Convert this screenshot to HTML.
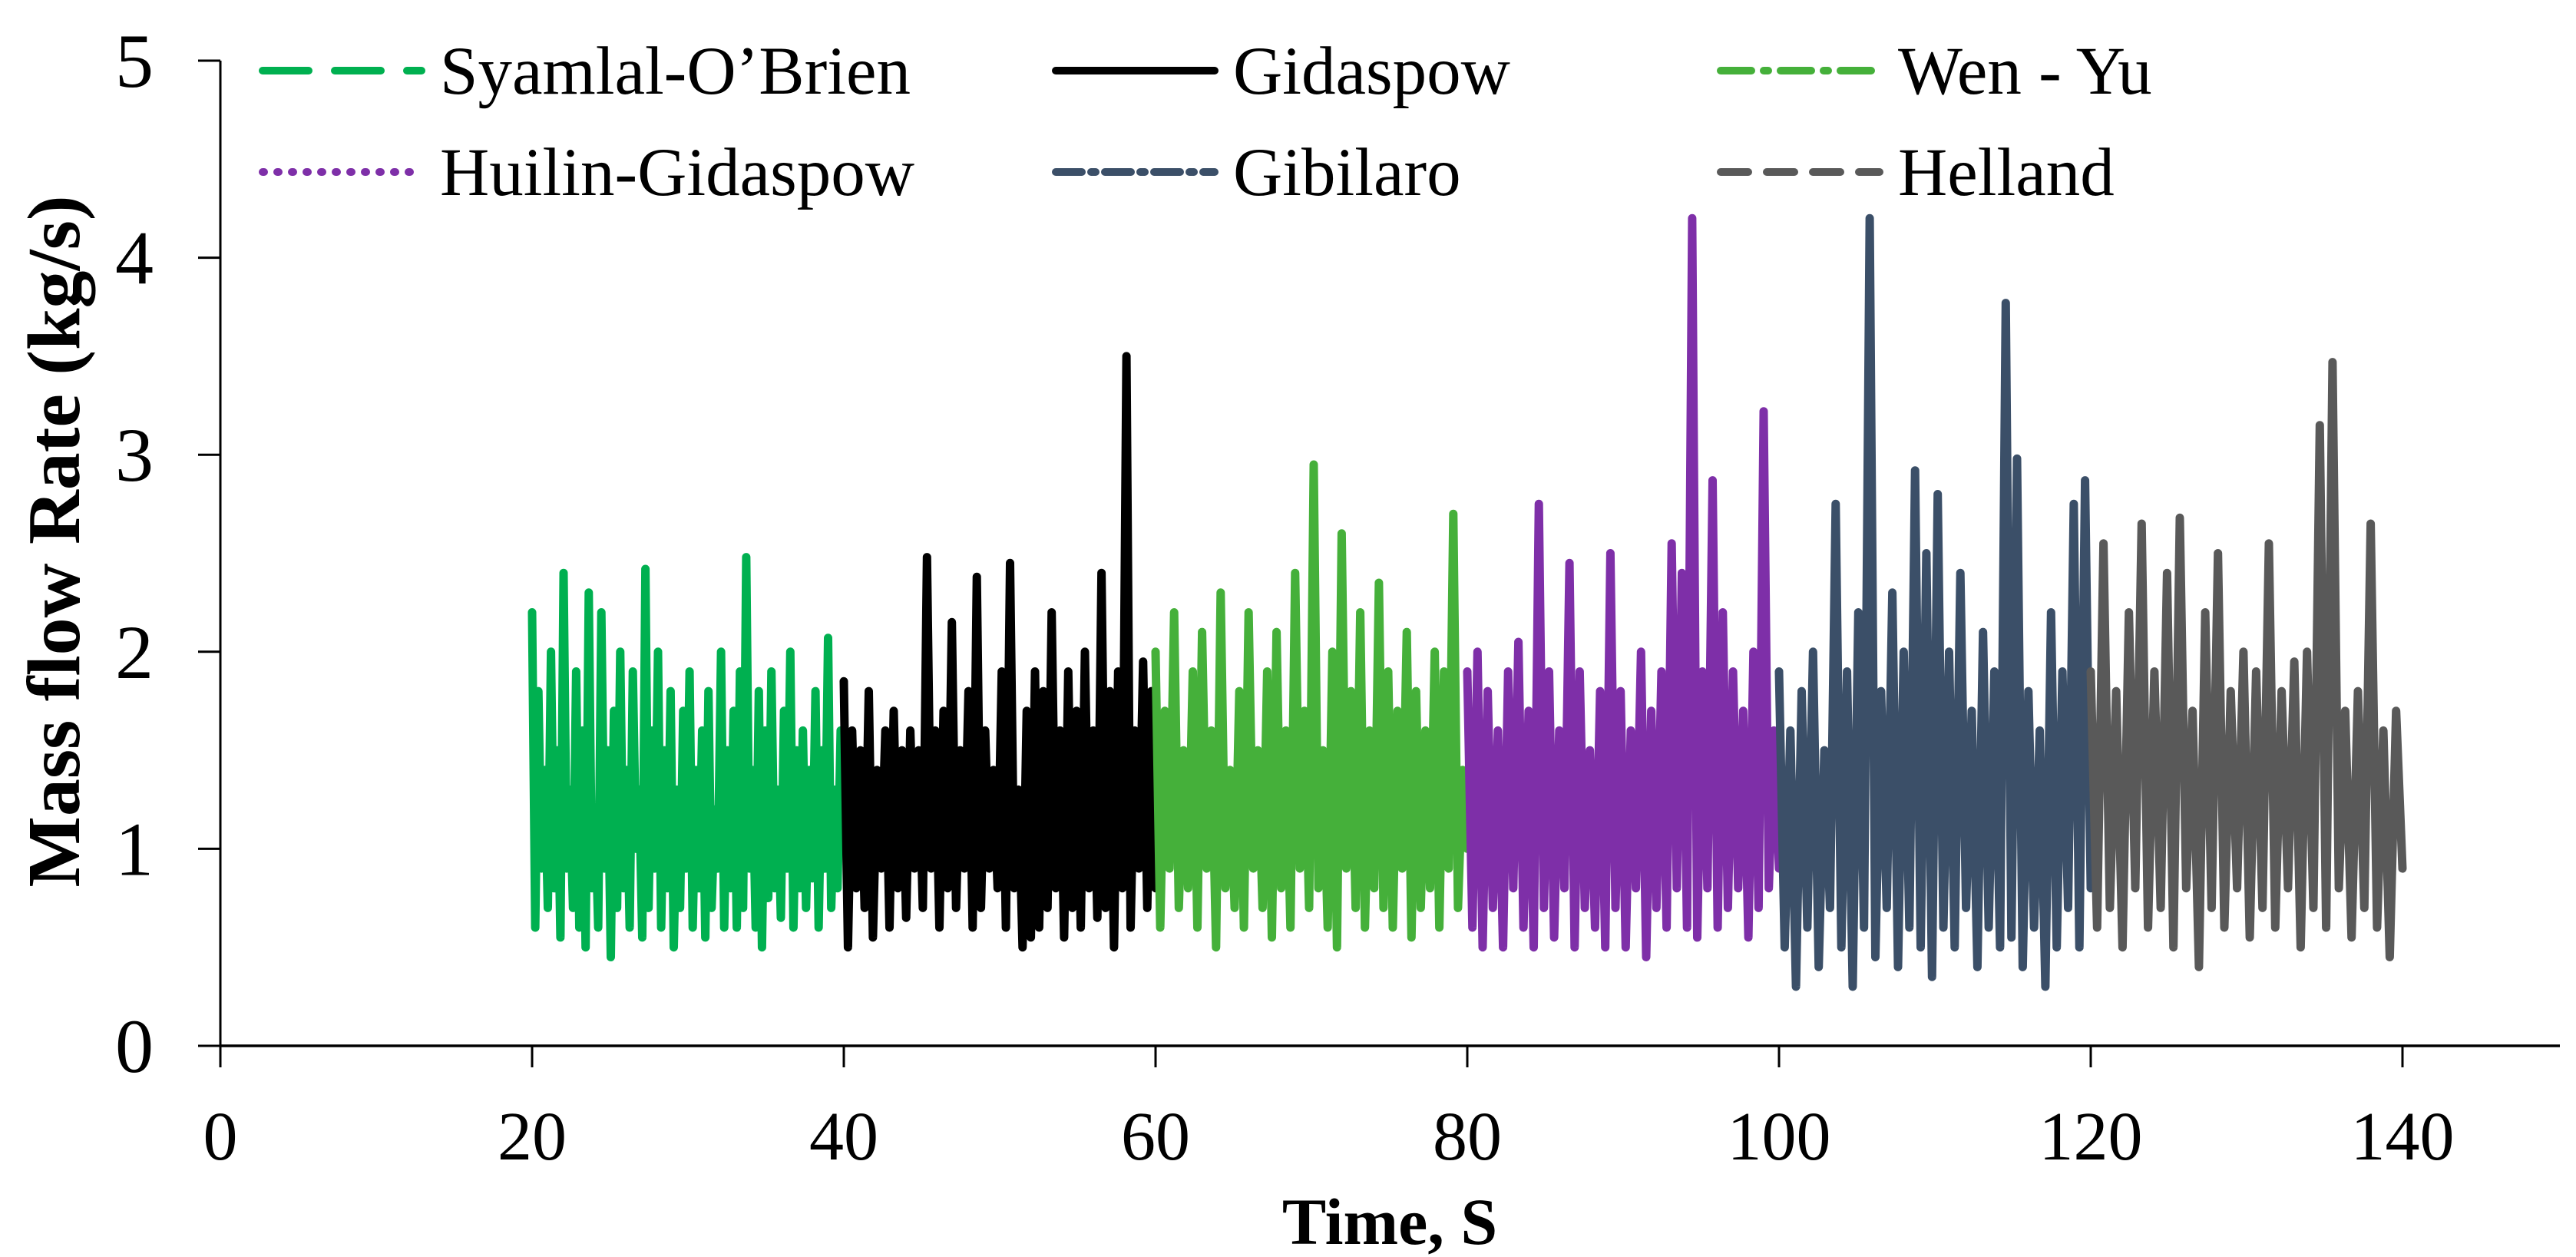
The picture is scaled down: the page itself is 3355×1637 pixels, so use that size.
<!DOCTYPE html>
<html><head><meta charset="utf-8"><style>
html,body{margin:0;padding:0;background:#fff;}
svg{display:block;}
text{font-family:"Liberation Serif",serif;fill:#000;}
</style></head><body>
<svg id="chart" width="3355" height="1637" viewBox="0 0 3355 1637" xmlns="http://www.w3.org/2000/svg">
<g id="plot"></g>
<g id="axes"></g>
<g id="legend"></g>
</svg>
<script>
const xTicks = [0,20,40,60,80,100,120,140];
const yTicks = [0,1,2,3,4,5];
const seriesNames = ["Syamlal-O’Brien","Gidaspow","Wen - Yu","Huilin-Gidaspow","Gibilaro","Helland"];
const seriesStart = [20,40,60,80,100,120];
const syamlalValues = [2.2,0.6,1.8,0.9,1.4,0.7,2.0,0.8,1.5,0.55,2.4,0.9,1.3,0.7,1.9,0.6,1.6,0.5,2.3,0.8,1.2,0.6,2.2,0.9,1.5,0.45,1.7,0.7,2.0,0.8,1.4,0.6,1.9,1.0,1.3,0.55,2.42,0.7,1.6,0.9,2.0,0.6,1.5,0.8,1.8,0.5,1.3,0.7,1.7,0.9,1.9,0.6,1.4,0.8,1.6,0.55,1.8,0.7,1.2,0.9,2.0,0.6,1.5,0.8,1.7,0.6,1.9,0.7,2.48,0.9,1.4,0.6,1.8,0.5,1.6,0.75,1.9,0.8,1.3,0.65,1.7,0.9,2.0,0.6,1.5,0.8,1.6,0.7,1.4,0.85,1.8,0.6,1.5,0.9,2.07,0.7,1.3,0.8,1.6,1.0];
const gidaspowValues = [1.85,0.5,1.6,0.8,1.5,0.7,1.8,0.55,1.4,0.9,1.6,0.6,1.7,0.8,1.5,0.65,1.6,0.9,1.5,0.7,2.48,0.9,1.6,0.6,1.7,0.8,2.15,0.7,1.5,0.9,1.8,0.6,2.38,0.7,1.6,0.9,1.4,0.8,1.9,0.6,2.45,0.8,1.3,0.5,1.7,0.55,1.9,0.6,1.8,0.7,2.2,0.8,1.6,0.55,1.9,0.7,1.7,0.6,2.0,0.8,1.6,0.65,2.4,0.7,1.8,0.5,1.9,0.8,3.5,0.6,1.6,0.9,1.95,0.7,1.8,0.8];
const wenyuValues = [2.0,0.6,1.7,0.9,2.2,0.7,1.5,0.8,1.9,0.6,2.1,0.9,1.6,0.5,2.3,0.8,1.4,0.7,1.8,0.6,2.2,0.9,1.5,0.7,1.9,0.55,2.1,0.8,1.6,0.6,2.4,0.9,1.7,0.7,2.95,0.8,1.5,0.6,2.0,0.5,2.6,0.9,1.8,0.7,2.2,0.6,1.6,0.8,2.35,0.7,1.9,0.6,1.7,0.9,2.1,0.55,1.8,0.7,1.6,0.8,2.0,0.6,1.9,0.9,2.7,0.7,1.4,1.0];
const huilinValues = [1.9,0.6,2.0,0.5,1.8,0.7,1.6,0.5,1.9,0.8,2.05,0.6,1.7,0.5,2.75,0.7,1.9,0.55,1.6,0.8,2.45,0.5,1.9,0.7,1.5,0.6,1.8,0.5,2.5,0.7,1.8,0.5,1.6,0.8,2.0,0.45,1.7,0.7,1.9,0.6,2.55,0.8,2.4,0.6,4.2,0.55,1.9,0.8,2.87,0.6,2.2,0.7,1.9,0.8,1.7,0.55,2.0,0.7,3.22,0.8,1.6,0.9];
const gibilaroValues = [1.9,0.5,1.6,0.3,1.8,0.6,2.0,0.4,1.5,0.7,2.75,0.5,1.9,0.3,2.2,0.6,4.2,0.45,1.8,0.7,2.3,0.4,2.0,0.6,2.92,0.5,2.5,0.35,2.8,0.6,2.0,0.5,2.4,0.7,1.7,0.4,2.1,0.6,1.9,0.5,3.77,0.55,2.98,0.4,1.8,0.6,1.6,0.3,2.2,0.5,1.9,0.7,2.75,0.5,2.87,0.8];
const hellandValues = [1.9,0.6,2.55,0.7,1.8,0.5,2.2,0.8,2.65,0.6,1.9,0.7,2.4,0.5,2.68,0.8,1.7,0.4,2.2,0.7,2.5,0.6,1.8,0.8,2.0,0.55,1.9,0.7,2.55,0.6,1.8,0.8,1.95,0.5,2.0,0.7,3.15,0.6,3.47,0.8,1.7,0.55,1.8,0.7,2.65,0.6,1.6,0.45,1.7,0.9];
const seriesValues = [syamlalValues,gidaspowValues,wenyuValues,huilinValues,gibilaroValues,hellandValues];
const seriesColors = ["#00B050","#000000","#45B03A","#7E2FA8","#3B4F68","#595959"];
const seriesDash = ["60,34","","40,16,6,16","2,17","34,12,6,12","36,24"];
const seriesKeys = ["syamlal","gidaspow","wen-yu","huilin","gibilaro","helland"];

const NS="http://www.w3.org/2000/svg";
const X0=287, PXPER=20.3, Y0=1362, PYPER=256.6;
function xs(t){return X0+t*PXPER;}
function ys(v){return Y0-v*PYPER;}
function mk(tag,attrs,parent){const e=document.createElementNS(NS,tag);for(const k in attrs)e.setAttribute(k,attrs[k]);parent.appendChild(e);return e;}

const plot=document.getElementById('plot');
seriesValues.forEach((vals,si)=>{
  const n=vals.length;
  const pts=vals.map((v,i)=>xs(seriesStart[si]+i*20/(n-1)).toFixed(1)+","+ys(v).toFixed(1)).join(" ");
  const pl=mk('polyline',{points:pts,fill:"none",stroke:seriesColors[si],"stroke-width":11,"stroke-linejoin":"round","stroke-linecap":"round"},plot);
  
  
});

const axes=document.getElementById('axes');
const ya=mk('line',{x1:X0,y1:ys(5),x2:X0,y2:Y0,stroke:"#000","stroke-width":3},axes);


const xa=mk('line',{x1:X0,y1:Y0,x2:3334,y2:Y0,stroke:"#000","stroke-width":3.5},axes);


yTicks.forEach(v=>{
  const tk=mk('line',{x1:258,y1:ys(v),x2:X0,y2:ys(v),stroke:"#000","stroke-width":3},axes);
  
  
  const t=mk('text',{x:200,y:ys(v)+34,"text-anchor":"end","font-size":100},axes);
  t.textContent=v;
  
  
});
xTicks.forEach(v=>{
  const tk=mk('line',{x1:xs(v),y1:Y0,x2:xs(v),y2:1390,stroke:"#000","stroke-width":3},axes);
  
  
  const t=mk('text',{x:xs(v),y:1510,"text-anchor":"middle","font-size":90},axes);
  t.textContent=v;
  
  
});
const xt=mk('text',{x:1810,y:1620,"text-anchor":"middle","font-size":86,"font-weight":"bold"},axes);
xt.textContent="Time, S";


const yt=mk('text',{x:0,y:0,"text-anchor":"middle","font-size":98,"font-weight":"bold",transform:"translate(103,705) rotate(-90)"},axes);
yt.textContent="Mass flow Rate (kg/s)";



const legend=document.getElementById('legend');
const legX=[337,1370,2236];
const legY=[92,224];
seriesNames.forEach((name,si)=>{
  const lx=legX[si%3], ly=legY[Math.floor(si/3)];
  const g=mk('g',{},legend);
  
  
  const ln=mk('line',{x1:lx+5,y1:ly,x2:lx+212,y2:ly,stroke:seriesColors[si],"stroke-width":10,"stroke-linecap":"round"},g);
  if(seriesDash[si])ln.setAttribute('stroke-dasharray',seriesDash[si]);
  const t=mk('text',{x:lx+236,y:ly+30,"font-size":89},g);
  t.textContent=name;
});
</script>
</body></html>
